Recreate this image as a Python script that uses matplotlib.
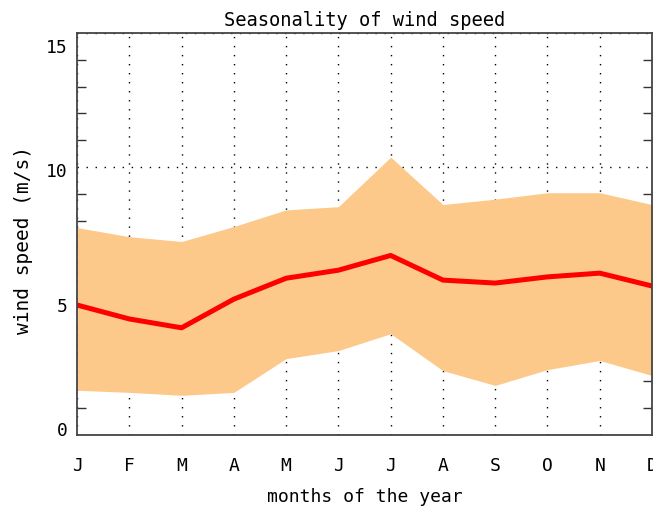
import numpy as np
import matplotlib
matplotlib.use("Agg")
import matplotlib.pyplot as plt
import matplotlib.transforms as mtransforms
from matplotlib.ticker import MultipleLocator

months = ["J", "F", "M", "A", "M", "J", "J", "A", "S", "O", "N", "D"]
mean_speed = [4.85, 4.33, 4.0, 5.07, 5.85, 6.15, 6.7, 5.78, 5.67, 5.9, 6.04, 5.56]
upper_speed = [7.74, 7.4, 7.22, 7.78, 8.4, 8.52, 10.37, 8.6, 8.8, 9.04, 9.04, 8.6]
lower_speed = [1.67, 1.59, 1.48, 1.59, 2.85, 3.15, 3.78, 2.4, 1.85, 2.44, 2.78, 2.22]
y_ticks = [0, 5, 10, 15]

plt.rcParams["font.family"] = ["DejaVu Sans Mono", "DejaVu Sans"]

x = np.arange(len(months))

fig = plt.figure(figsize=(6.53, 5.08), dpi=100)
ax = fig.add_axes([0.118, 0.1437, 0.8805, 0.7913])

ax.set_axisbelow(True)
ax.fill_between(x, lower_speed, upper_speed, color="#fdc98a", linewidth=0, zorder=1)
ax.plot(x, mean_speed, color="#ff0000", linewidth=3.6, zorder=2)

ax.set_xlim(0, 11)
ax.set_ylim(0, 15)
ax.set_xticks(x)
ax.set_xticklabels(months)
ax.set_yticks(y_ticks)
ax.yaxis.set_minor_locator(MultipleLocator(1))

ax.tick_params(axis="both", which="major", length=0, labelsize=13)
ax.tick_params(axis="x", which="major", pad=16)
ax.tick_params(axis="y", which="major", pad=7)
ax.tick_params(axis="y", which="minor", direction="in", length=6.5, width=1,
               left=True, right=True, color="#333333")
ax.tick_params(axis="x", which="minor", bottom=False)

# IDL-style: keep end labels inside the axis range, nudge others down a bit
fig.canvas.draw()
shifts = {0: -6, 5: 4, 10: 3, 15: 13}
for val, lab in zip(y_ticks, ax.get_yticklabels()):
    off = mtransforms.ScaledTranslation(0, -shifts[val] / 100, fig.dpi_scale_trans)
    lab.set_transform(lab.get_transform() + off)

ax.grid(True, which="major", color="black", linestyle=(0, (1, 5.5)), linewidth=1)

for sp in ax.spines.values():
    sp.set_color("#444444")
    sp.set_linewidth(1.3)

ax.set_title("Seasonality of wind speed", fontsize=13.5, pad=5)
ax.set_xlabel("months of the year", fontsize=13, labelpad=9)
ax.set_ylabel("wind speed (m/s)", fontsize=14)
ax.yaxis.set_label_coords(-0.076, 0.485)

fig.savefig("out.png", dpi=100)
